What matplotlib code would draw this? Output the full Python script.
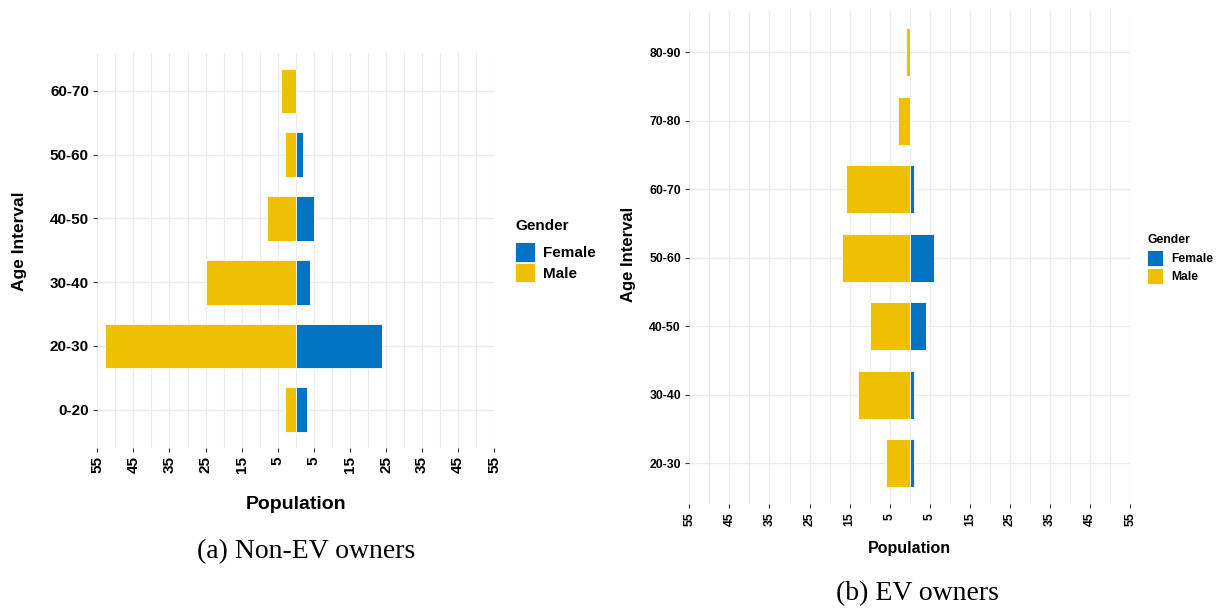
import numpy as np
import matplotlib
matplotlib.use('Agg')
import matplotlib.pyplot as plt
from matplotlib.patches import Patch

plt.rcParams['font.family'] = ['Liberation Sans', 'DejaVu Sans']

# (a) Non-EV owners
ages_a = ['0-20', '20-30', '30-40', '40-50', '50-60', '60-70']
female_a = [3, 24, 4, 5, 2, 0]
male_a = [3, 53, 25, 8, 3, 4]

# (b) EV owners
ages_b = ['20-30', '30-40', '40-50', '50-60', '60-70', '70-80', '80-90']
female_b = [1, 1, 4, 6, 1, 0, 0]
male_b = [6, 13, 10, 17, 16, 3, 1]

col_female = '#0073C2'
col_male = '#EFC000'
grid_col = '#EBEBEB'
major_ticks = np.arange(-55, 56, 10)
minor_ticks = np.arange(-50, 51, 10)

W, H = 1217, 610
fig = plt.figure(figsize=(W / 100, H / 100), dpi=100)


def pyramid(rect, ages, female, male, tick_fs, label_fs, xlabel_fs, xlab_y, ylab_x, ylab_y):
    ax = fig.add_axes(rect)
    y = np.arange(len(ages))
    ax.barh(y, -np.array(male), height=0.7, color=col_male, edgecolor='white', linewidth=0.6, zorder=3)
    ax.barh(y, female, height=0.7, color=col_female, edgecolor='white', linewidth=0.6, zorder=3)
    ax.set_xlim(-55, 55)
    ax.set_ylim(-0.6, len(ages) - 0.4)
    ax.set_xticks(major_ticks)
    ax.set_xticks(minor_ticks, minor=True)
    ax.set_xticklabels([str(abs(t)) for t in major_ticks], rotation=90, fontsize=tick_fs,
                       fontweight='bold', va='top', ha='center')
    ax.set_yticks(y)
    ax.set_yticklabels(ages, fontsize=tick_fs, fontweight='bold')
    ax.grid(True, which='major', color=grid_col, linewidth=1.0, zorder=0)
    ax.grid(True, which='minor', axis='x', color=grid_col, linewidth=0.8, zorder=0)
    ax.tick_params(axis='both', which='major', length=3, width=0.8, color='#333333', pad=3)
    ax.tick_params(axis='x', which='minor', length=0)
    for s in ax.spines.values():
        s.set_visible(False)
    ax.set_axisbelow(True)
    ax.set_xlabel('Population', fontsize=xlabel_fs, fontweight='bold', va='center')
    ax.xaxis.set_label_coords(0.5, xlab_y)
    ax.set_ylabel('Age Interval', fontsize=label_fs, fontweight='bold', va='center')
    ax.yaxis.set_label_coords(ylab_x, ylab_y)
    return ax


def px_rect(x0, y0, x1, y1):
    return [x0 / W, 1 - y1 / H, (x1 - x0) / W, (y1 - y0) / H]


ax1 = pyramid(px_rect(97.3, 52.7, 494.3, 448), ages_a, female_a, male_a,
              11, 12.5, 14, -0.144, -0.195, 0.524)
ax2 = pyramid(px_rect(689.3, 11.2, 1130.3, 504.4), ages_b, female_b, male_b,
              8.8, 12, 11.5, -0.09, -0.139, 0.506)

handles = [Patch(facecolor=col_female, edgecolor='white', linewidth=0.6),
           Patch(facecolor=col_male, edgecolor='white', linewidth=0.6)]


def gender_legend(x, title_y, key_y, fs, hl, hh, spacing, textpad):
    fig.text(x / W, 1 - title_y / H, 'Gender', fontsize=fs, fontweight='bold', ha='left', va='center')
    fig.legend(handles, ['Female', 'Male'], loc='upper left',
               bbox_to_anchor=(x / W, 1 - key_y / H), frameon=False,
               prop={'weight': 'bold', 'size': fs},
               handlelength=hl, handleheight=hh, labelspacing=spacing, handletextpad=textpad,
               borderpad=0, borderaxespad=0)


gender_legend(515, 226, 242, 11, 1.3, 1.6, 0.08, 0.55)
gender_legend(1147, 239.7, 249.7, 8.7, 1.33, 1.65, 0.18, 0.7)

fig.text(306 / W, 1 - 552 / H, '(a) Non-EV owners', family='Liberation Serif', fontsize=20,
         ha='center', va='center')
fig.text(917 / W, 1 - 594 / H, '(b) EV owners', family='Liberation Serif', fontsize=20,
         ha='center', va='center')

fig.savefig('out.png', dpi=100)
